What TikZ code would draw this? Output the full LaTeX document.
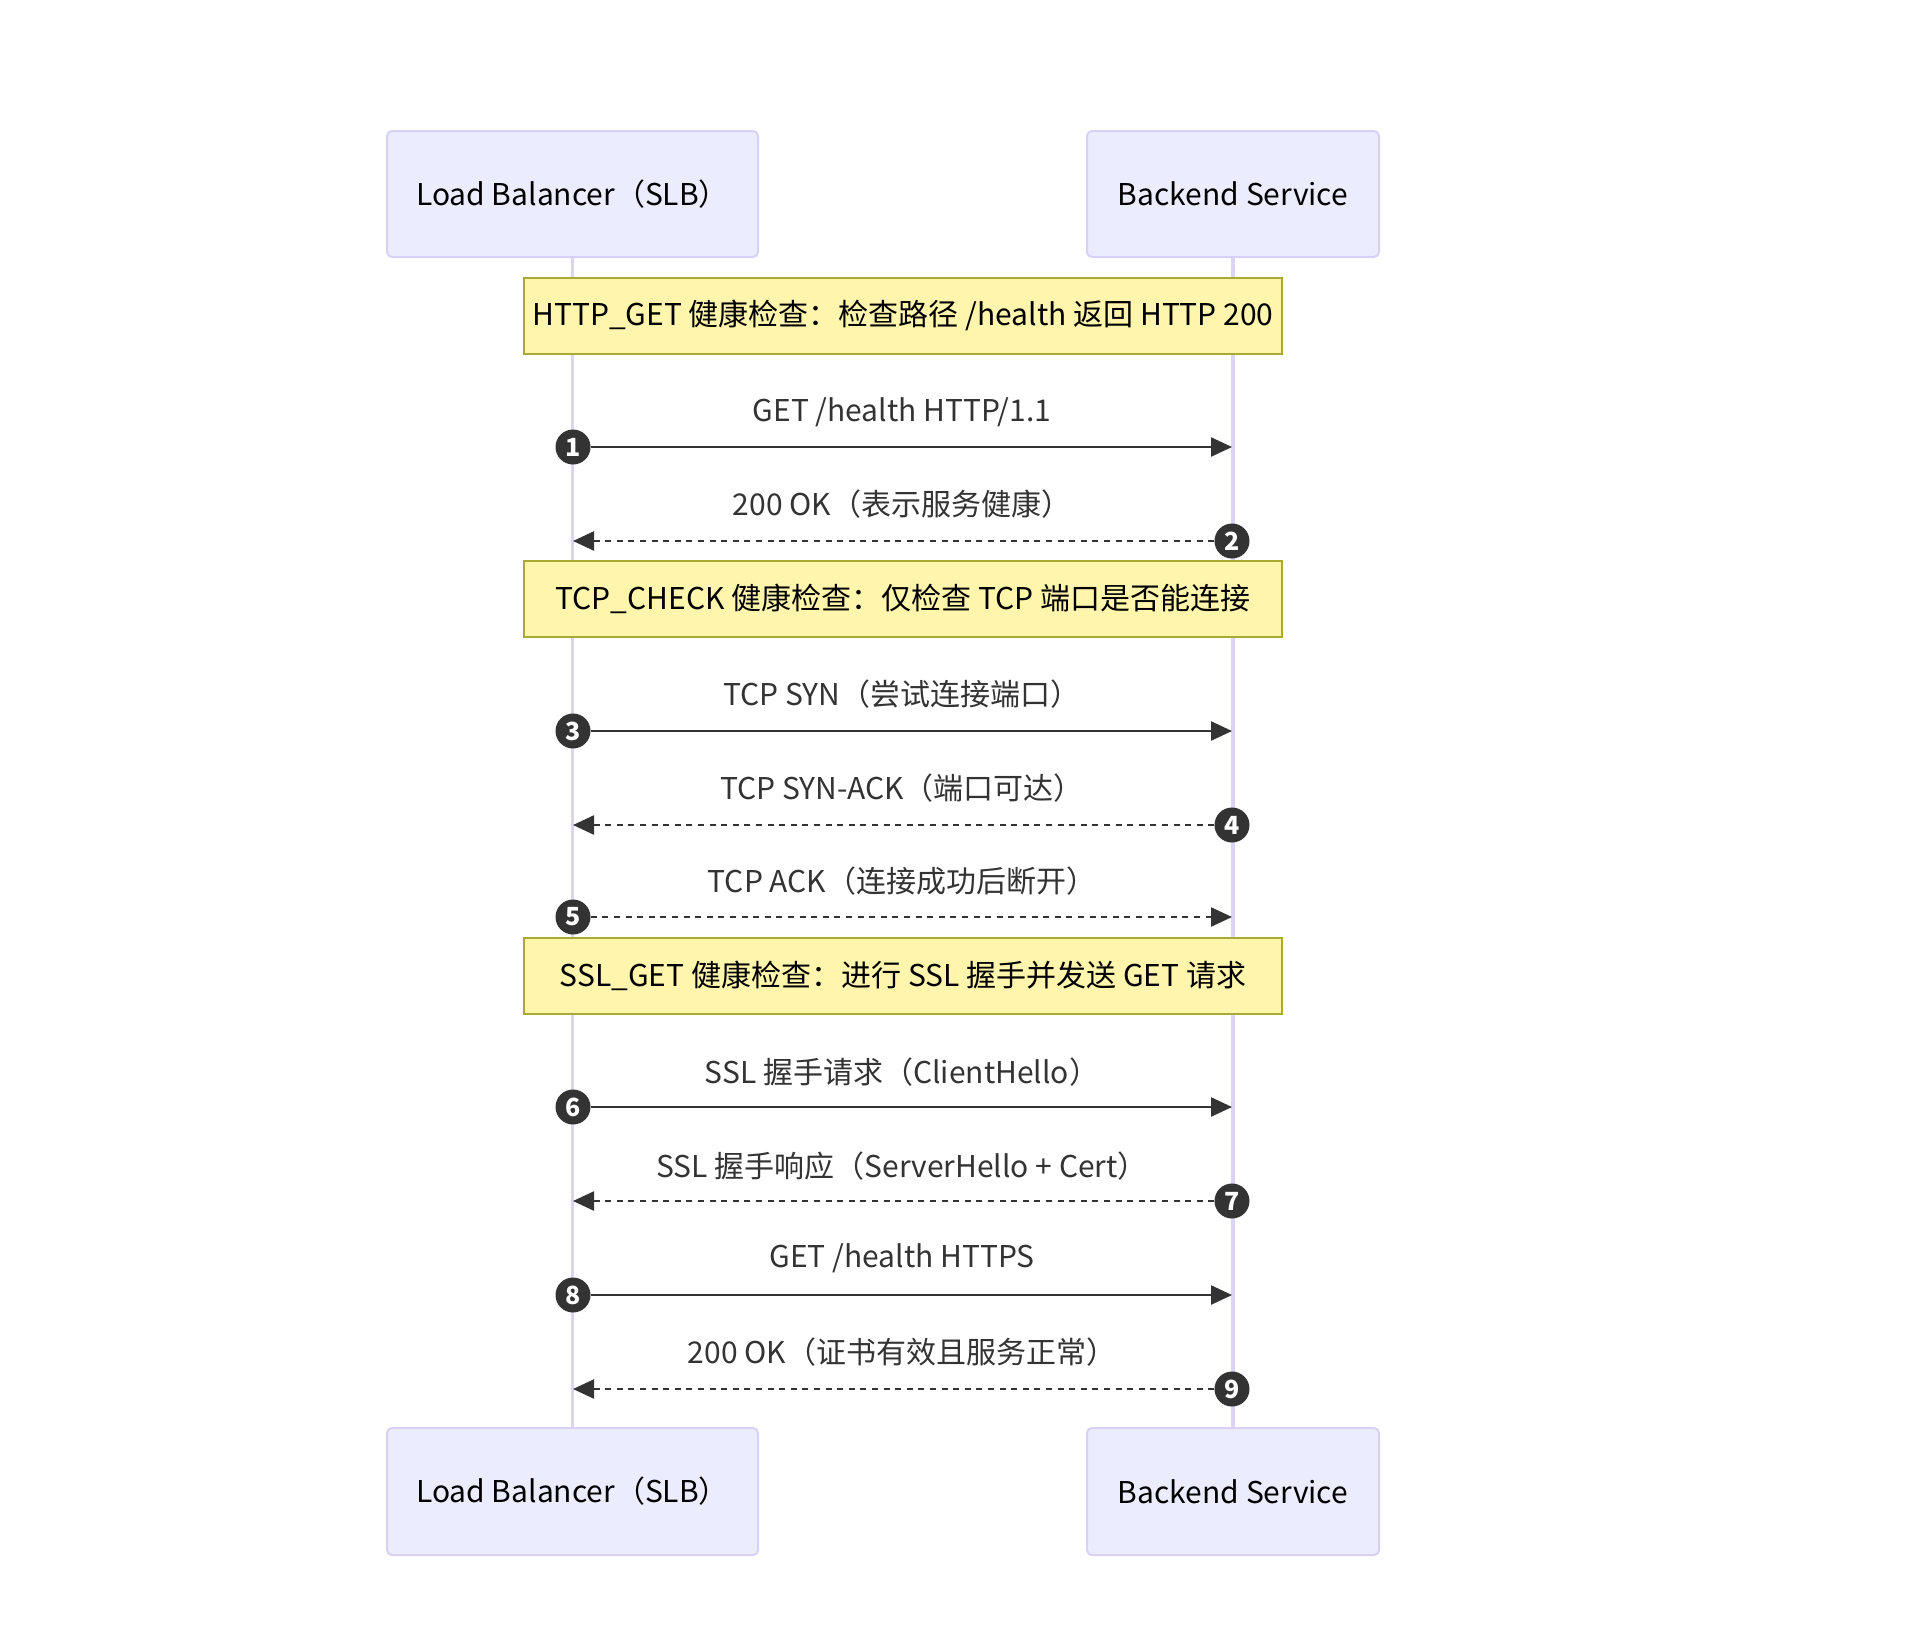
\documentclass[tikz,border=0pt]{standalone}
\usepackage{fontspec}
\setmainfont{Noto Sans CJK SC}
\usetikzlibrary{arrows.meta}
\definecolor{actorfill}{HTML}{ECECFF}
\definecolor{actorline}{HTML}{D9D0F5}
\definecolor{lifecol}{HTML}{DCD4F4}
\definecolor{notefill}{HTML}{FFF5AD}
\definecolor{noteline}{HTML}{AAAA33}
\definecolor{msgcol}{HTML}{333333}
\tikzset{
  actorbox/.style={draw=actorline, line width=2pt, fill=actorfill, rounded corners=5pt,
    inner sep=0pt, text=black, font=\fontsize{30}{36}\selectfont},
  notebox/.style={draw=noteline, line width=2pt, fill=notefill, inner sep=0pt,
    minimum width=758pt, minimum height=76pt, text=black, font=\fontsize{30}{36}\selectfont},
  lifeline/.style={draw=lifecol, line width=3.5pt},
  msglabel/.style={text=msgcol, font=\fontsize{30}{36}\selectfont, inner sep=0pt},
  seqnum/.style={circle, fill=msgcol, inner sep=0pt, minimum size=35pt, text=white,
    font=\fontsize{25}{28}\selectfont\bfseries},
  solidmsg/.style={draw=msgcol, line width=2.4pt, -{Triangle[length=21pt,width=19pt]}},
  dashmsg/.style={solidmsg, dash pattern=on 6pt off 5.6pt},
}
\begin{document}
\begin{tikzpicture}[x=1pt,y=-1pt]
\useasboundingbox (0,0) rectangle (1910,1628);
% actors
\node[actorbox, minimum width=371pt, minimum height=126pt] (lbTop) at (572.5,194) {Load Balancer（SLB）};
\node[actorbox, minimum width=292pt, minimum height=126pt] (bsTop) at (1233,194) {Backend Service};
\node[actorbox, minimum width=371pt, minimum height=127pt] (lbBot) at (572.5,1491.5) {Load Balancer（SLB）};
\node[actorbox, minimum width=292pt, minimum height=127pt] (bsBot) at (1233,1491.5) {Backend Service};
% lifelines
\draw[lifeline] (lbTop.south) -- (lbBot.north);
\draw[lifeline] (bsTop.south) -- (bsBot.north);
% notes
\node[notebox] (note1) at (903,315.5) {HTTP\_GET 健康检查：检查路径 /health 返回 HTTP 200};
\node[notebox] (note2) at (903,599) {TCP\_CHECK 健康检查：仅检查 TCP 端口是否能连接};
\node[notebox] (note3) at (903,975.5) {SSL\_GET 健康检查：进行 SSL 握手并发送 GET 请求};
% message end points
\foreach \i/\y in {1/447,2/541,3/731,4/825,5/917,6/1107,7/1201,8/1295,9/1389}{
  \coordinate (L\i) at (573,\y);
  \coordinate (R\i) at (1232,\y);
}
% sequence numbers
\node[seqnum] (n1) at (L1) {1};
\node[seqnum] (n2) at (R2) {2};
\node[seqnum] (n3) at (L3) {3};
\node[seqnum] (n4) at (R4) {4};
\node[seqnum] (n5) at (L5) {5};
\node[seqnum] (n6) at (L6) {6};
\node[seqnum] (n7) at (R7) {7};
\node[seqnum] (n8) at (L8) {8};
\node[seqnum] (n9) at (R9) {9};
% messages
\draw[solidmsg] (n1) -- (R1);
\draw[dashmsg] (n2) -- (L2);
\draw[solidmsg] (n3) -- (R3);
\draw[dashmsg] (n4) -- (L4);
\draw[dashmsg] (n5) -- (R5);
\draw[solidmsg] (n6) -- (R6);
\draw[dashmsg] (n7) -- (L7);
\draw[solidmsg] (n8) -- (R8);
\draw[dashmsg] (n9) -- (L9);
% labels
\node[msglabel] (m1) at (902,412) {GET /health HTTP/1.1};
\node[msglabel] (m2) at (902,504) {200 OK（表示服务健康）};
\node[msglabel] (m3) at (902,694) {TCP SYN（尝试连接端口）};
\node[msglabel] (m4) at (902,788) {TCP SYN-ACK（端口可达）};
\node[msglabel] (m5) at (902,881) {TCP ACK（连接成功后断开）};
\node[msglabel] (m6) at (902,1072) {SSL 握手请求（ClientHello）};
\node[msglabel] (m7) at (902,1166) {SSL 握手响应（ServerHello + Cert）};
\node[msglabel] (m8) at (902,1258) {GET /health HTTPS};
\node[msglabel] (m9) at (902,1352) {200 OK（证书有效且服务正常）};
\end{tikzpicture}
\end{document}
